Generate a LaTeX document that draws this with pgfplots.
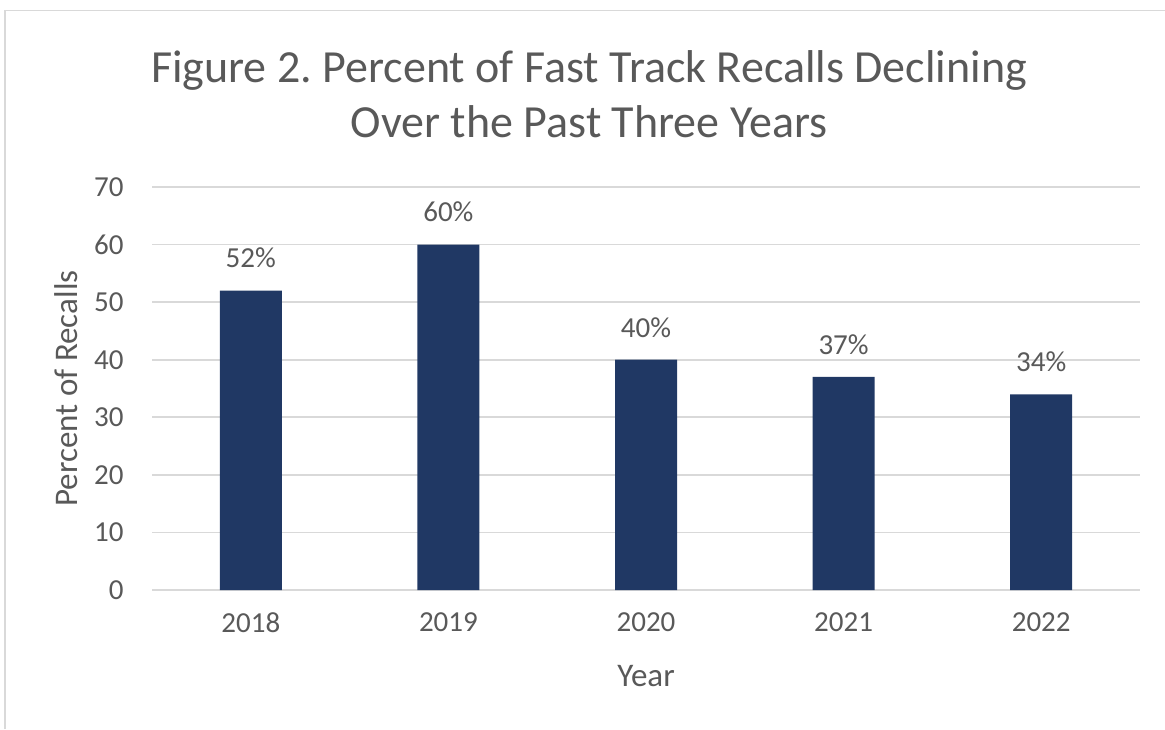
\documentclass[border=0pt]{standalone}
\usepackage{fontspec}
\setmainfont{Carlito}
\usepackage{pgfplots}
\pgfplotsset{compat=1.18}
\definecolor{barblue}{HTML}{203864}
\definecolor{txt}{HTML}{595959}
\definecolor{gridc}{HTML}{D9D9D9}
\frenchspacing
\begin{document}
\begin{tikzpicture}
\path[use as bounding box] (0,0) rectangle (582.5pt,-364.5pt);
\draw[gridc, line width=0.8pt] (2.5pt,-364.5pt) -- (2.5pt,-5.3pt) -- (582.5pt,-5.3pt);
\node[txt, align=center, font=\fontsize{23}{27.5}\selectfont] at (294.5pt,-47pt)
  {Figure 2. Percent of Fast Track Recalls Declining\\Over the Past Three Years};
\begin{axis}[
  at={(76pt,-295pt)}, anchor=south west,
  scale only axis, width=494pt, height=201.5pt,
  ybar, bar width=31pt,
  xmin=-0.5, xmax=4.5, ymin=0, ymax=70,
  xtick=data, xticklabels={2018,2019,2020,2021,2022},
  ytick={0,10,...,70},
  /pgf/number format/assume math mode=true,
  axis x line*=bottom, axis y line*=left,
  x axis line style={draw=gridc, line width=0.8pt, -},
  y axis line style={draw=none},
  ymajorgrids, grid style={gridc, line width=0.8pt},
  major tick length=0pt,
  tick label style={txt, font=\fontsize{14.5}{17}\selectfont},
  yticklabel style={inner sep=0pt, xshift=-14pt},
  xticklabel style={yshift=-8pt},
  xlabel={Year}, ylabel={Percent of Recalls},
  label style={txt, font=\fontsize{16.5}{19}\selectfont},
  xlabel style={at={(axis description cs:0.5,0)}, anchor=center, yshift=-43pt},
  ylabel style={at={(axis description cs:0,0.5)}, anchor=center, yshift=43pt},
  nodes near coords={\pgfmathprintnumber{\pgfplotspointmeta}\%},
  nodes near coords style={txt, font=\fontsize{14.5}{17}\selectfont, anchor=south, inner sep=0pt, yshift=11pt},
]
\addplot[fill=barblue, draw=none] coordinates {(0,52) (1,60) (2,40) (3,37) (4,34)};
\end{axis}
\end{tikzpicture}
\end{document}
